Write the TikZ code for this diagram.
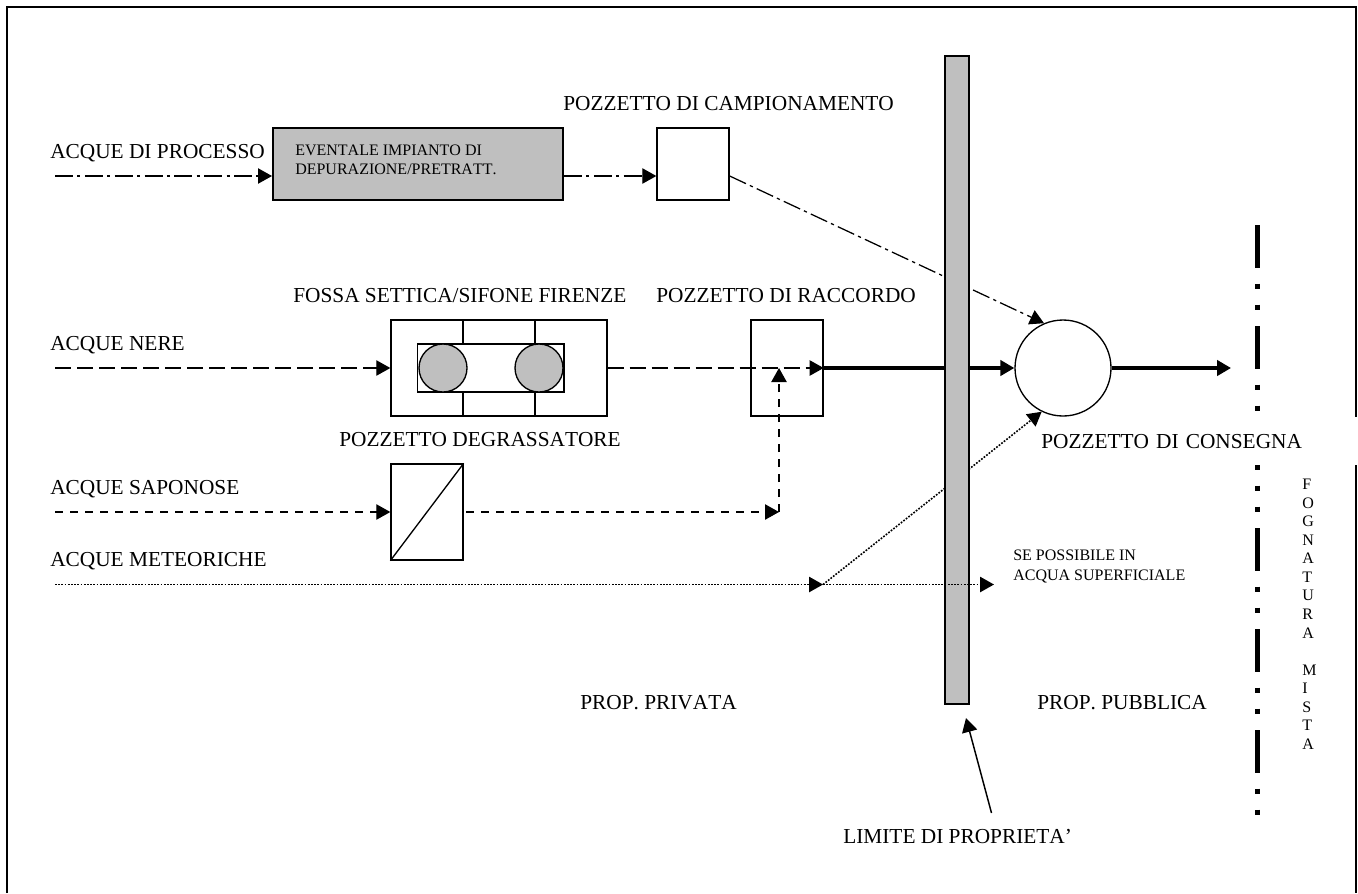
\documentclass[tikz,border=0pt]{standalone}
\usepackage{fontspec}
\setmainfont{Liberation Serif}[Kerning=Off]
\usetikzlibrary{arrows.meta}

\begin{document}
\begin{tikzpicture}[x=0.75pt, y=-0.75pt,
    caption/.style ={inner sep = 0pt, anchor=base west, font=\fontsize{16}{18}\selectfont},
    smallcaption/.style ={inner sep = 0pt, anchor=north west, align=left, font=\fontsize{12}{15}\selectfont},
    well/.style ={rectangle, draw, line width=1pt, inner sep = 0pt, minimum width=54pt, minimum height=72pt},
    flowtip/.style ={-{Triangle[length=10.5pt, width=11.5pt]}},
    process/.style ={flowtip, line width=0.95pt, dash pattern=on 13.5pt off 3.2pt on 2.4pt off 3.3pt},
    black water/.style ={flowtip, line width=0.95pt, dash pattern=on 12pt off 4.5pt},
    soap/.style ={flowtip, line width=0.95pt, dash pattern=on 6pt off 5.25pt},
    rain/.style ={flowtip, line width=1.2pt, dash pattern=on 1.3pt off 1.1pt},
    main/.style ={flowtip, line width=2.5pt}]
   \useasboundingbox (0,0) rectangle (1358,893);

   % frame, open at the bottom
   \draw[line width=1.1pt] (7,893) -- (7,7) -- (1356,7) -- (1356,893);

   % mixed sewer
   \coordinate (sewertop) at (1257,225);
   \coordinate (sewerend) at (1257,818);
   \draw[line width=3.75pt, dash pattern=on 32pt off 12pt on 3.75pt off 12pt on 3.75pt off 12.25pt] (sewertop) -- (sewerend);
   \node[smallcaption, font=\fontsize{12}{13.9}\selectfont] (fognatura) at (1302,479)
      {F\\O\\G\\N\\A\\T\\U\\R\\A\\[13.9pt]M\\I\\S\\T\\A};

   % boxes
   \node[rectangle, draw, line width=1.5pt, fill=black!25, minimum width=217.5pt, minimum height=54pt, inner sep = 0pt] (impianto) at (418,164) {};
   \node[smallcaption, font=\fontsize{12}{13.8}\selectfont] (impiantotext) at (295,145) {EVENTALE IMPIANTO DI\\DEPURAZIONE/PRETRATT.};
   \node[well, minimum height=54pt] (campionamento) at (693,164) {};
   \node[well, minimum width=162pt] (fossa) at (499,368) {};
   \node[well, minimum width=110pt, minimum height=36pt] (fossain) at (490.5,368) {};
   \node[circle, draw, line width=1pt, fill=black!25, inner sep = 0pt, minimum size=36pt] (fossaA) at (443,368) {};
   \node[circle, draw, line width=1pt, fill=black!25, inner sep = 0pt, minimum size=36pt] (fossaB) at (539,368) {};
   \node[well] (raccordo) at (787,368) {};
   \node[well] (degrassatore) at (427,512) {};
   \node[circle, draw, line width=1pt, inner sep = 0pt, minimum size=72pt] (consegna) at (1063,368) {};

   \draw[line width=1pt] (463,320) -- (463,344);
   \draw[line width=1pt] (535,320) -- (535,344);
   \draw[line width=1pt] (463,392) -- (463,416);
   \draw[line width=1pt] (535,392) -- (535,416);
   \draw[line width=1pt] (degrassatore.south west) -- (degrassatore.north east);

   % start and end points
   \coordinate (processo) at (55,176);
   \coordinate (nere) at (55,368);
   \coordinate (saponose) at (55,512);
   \coordinate (meteoriche) at (55,584.5);
   \coordinate (bend) at (779,512);
   \coordinate (join) at (779,368);
   \coordinate (split) at (823,584.5);
   \coordinate (superficiale) at (994,584.5);
   \coordinate (fognaturatip) at (1231,368);
   \coordinate (limitetail) at (991.5,813);
   \coordinate (limitetip) at (966,718);
   \coordinate (impiantoin) at (impianto.west |- processo);
   \coordinate (impiantoout) at (impianto.east |- processo);
   \coordinate (campionamentoin) at (campionamento.west |- processo);
   \coordinate (campionamentoout) at (campionamento.east |- processo);
   \coordinate (degrassatoreout) at (466,512);

   \draw[process] (processo) to (impiantoin);
   \draw[process] (impiantoout) to (campionamentoin);
   \draw[process] (campionamentoout) to (consegna.113);
   \draw[black water] (nere) to (fossa.west);
   \draw[black water] (fossa.east) to (raccordo.east);
   \draw[soap] (saponose) to (degrassatore.west);
   \draw[soap] (degrassatoreout) to (bend);
   \draw[soap] (bend) to (join);
   \draw[rain] (split) to (consegna.244);
   \draw[main] (raccordo.east) to (consegna.west);
   \draw[main] (consegna.east) to (fognaturatip);

   % property limit, over the lines that run behind it
   \node[rectangle, draw, line width=1.5pt, fill=black!25, minimum width=18pt, minimum height=486pt, inner sep = 0pt] (limite) at (957,380) {};
   \draw[rain] (meteoriche) to (split);
   \draw[rain] (split) to (superficiale);
   \draw[line width=1.1pt, flowtip] (limitetail) to (limitetip);

   % texts
   \node[caption] (tprocesso) at (50,158) {ACQUE DI PROCESSO};
   \node[caption] (tnere) at (50,350) {ACQUE NERE};
   \node[caption] (tsaponose) at (50,494) {ACQUE SAPONOSE};
   \node[caption] (tmeteoriche) at (50,566) {ACQUE METEORICHE};
   \node[caption] (tcampionamento) at (563,110) {POZZETTO DI CAMPIONAMENTO};
   \node[caption] (tfossa) at (293,302) {FOSSA SETTICA/SIFONE FIRENZE};
   \node[caption] (traccordo) at (656,302) {POZZETTO DI RACCORDO};
   \node[caption] (tdegrassatore) at (339,446) {POZZETTO DEGRASSATORE};
   \node[rectangle, fill=white, anchor=north west, align=left, inner xsep=0pt, inner ysep=0pt, text width=238pt, minimum height=36pt, font=\fontsize{16}{18}\selectfont] (tconsegna) at (1041,417) {POZZETTO DI CONSEGNA};
   \node[smallcaption] (tsuperficiale) at (1013,550) {SE POSSIBILE IN\\ACQUA SUPERFICIALE};
   \node[caption] (tprivata) at (580,709) {PROP. PRIVATA};
   \node[caption] (tpubblica) at (1037,709) {PROP. PUBBLICA};
   \node[caption] (tlimite) at (843,843) {LIMITE DI PROPRIETA'};
 \end{tikzpicture}
\end{document}
